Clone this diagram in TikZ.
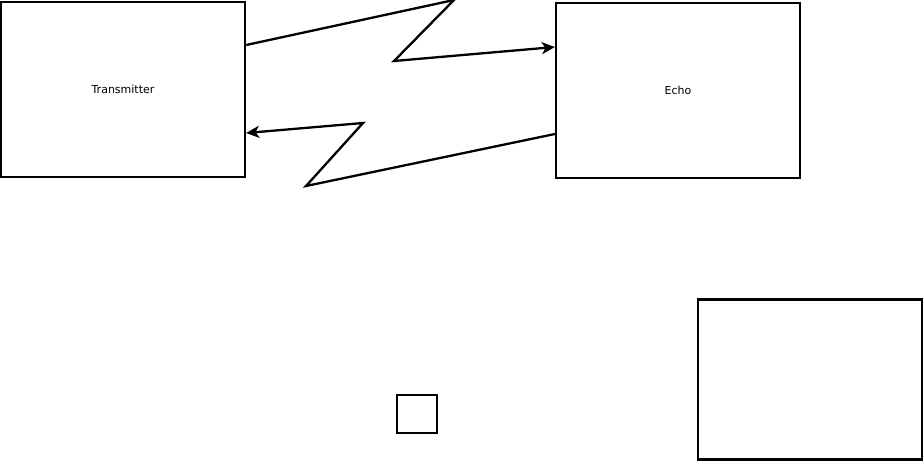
\documentclass[tikz,border=0pt]{standalone}
\usepackage{fontspec}
\setmainfont{DejaVu Sans}
\usetikzlibrary{arrows.meta}
\begin{document}
\begin{tikzpicture}[x=1pt,y=-1pt,
  box/.style={draw=black,line width=2.3pt,fill=white,inner sep=0pt,font=\fontsize{11}{13}\selectfont},
  wave/.style={draw=black,line width=2.3pt,line join=miter,-{Stealth[length=13pt,width=12pt,inset=3.5pt]}}]
\useasboundingbox (0,0) rectangle (924,461);
\node[box,minimum width=244pt,minimum height=175pt] (tx) at (123,89.5) {Transmitter};
\node[box,minimum width=244pt,minimum height=175pt] (echo) at (678,90.5) {Echo};
\node[box,minimum width=40pt,minimum height=38pt] (sq) at (417,414) {};
\node[box,minimum width=224pt,minimum height=160pt] (big) at (810,379.5) {};
\coordinate (a1) at (454,0);
\coordinate (a2) at (394,61);
\coordinate (b1) at (306,186);
\coordinate (b2) at (363,123);
\draw[wave] (tx.east |- 0,45) -- (a1) -- (a2) -- (echo.west |- 0,47);
\draw[wave] (echo.west |- 0,134) -- (b1) -- (b2) -- (tx.east |- 0,133);
\end{tikzpicture}
\end{document}
